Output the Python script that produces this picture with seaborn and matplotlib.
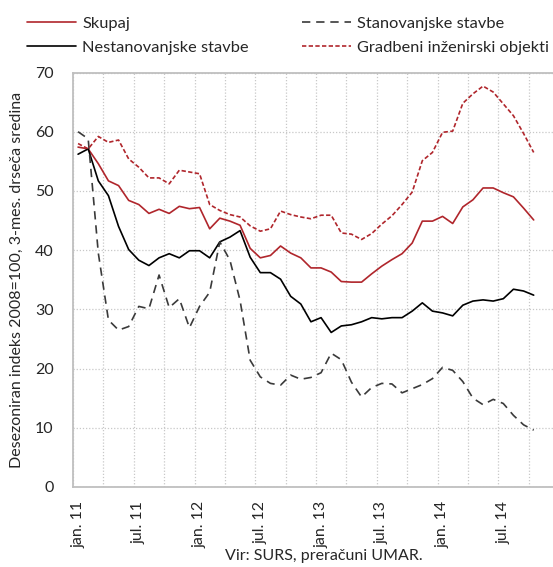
import matplotlib
matplotlib.use("Agg")
import matplotlib.pyplot as plt
import seaborn as sns
import numpy as np
import pandas as pd

# ---- data ----
month_abbr = ["jan.", "feb.", "mar.", "apr.", "maj", "jun.", "jul.", "avg.", "sep.", "okt.", "nov.", "dec."]
years = ["11", "12", "13", "14"]
months = [f"{m} {y}" for y in years for m in month_abbr][:46]

skupaj = [57.4, 57.1, 54.6, 51.7, 50.9, 48.4, 47.7, 46.2, 46.9, 46.2, 47.4, 47.0,
          47.2, 43.6, 45.4, 44.9, 44.2, 40.3, 38.7, 39.1, 40.7, 39.5, 38.7, 37.0,
          37.0, 36.3, 34.7, 34.6, 34.6, 36.0, 37.3, 38.4, 39.4, 41.2, 44.9, 44.9,
          45.7, 44.5, 47.3, 48.5, 50.5, 50.5, 49.7, 49.0, 47.1, 45.1]
stanovanjske = [60.0, 58.8, 39.5, 28.2, 26.5, 27.1, 30.5, 30.1, 35.8, 30.3, 31.8, 26.9,
                30.5, 32.9, 41.4, 38.3, 31.5, 21.4, 18.6, 17.5, 17.2, 18.9, 18.2, 18.5,
                19.3, 22.6, 21.5, 17.7, 15.2, 16.8, 17.5, 17.4, 15.9, 16.6, 17.3, 18.3,
                20.2, 19.7, 17.8, 15.0, 13.9, 14.8, 14.1, 12.1, 10.5, 9.6]
nestanovanjske = [56.2, 57.1, 51.7, 49.2, 44.0, 40.1, 38.3, 37.4, 38.7, 39.4, 38.7, 39.9,
                  39.9, 38.7, 41.4, 42.2, 43.3, 38.8, 36.2, 36.2, 35.1, 32.2, 30.9, 27.9,
                  28.6, 26.1, 27.2, 27.4, 27.9, 28.6, 28.4, 28.6, 28.6, 29.7, 31.1, 29.7,
                  29.4, 28.9, 30.7, 31.4, 31.6, 31.4, 31.8, 33.4, 33.1, 32.4]
gradbeni = [58.0, 57.1, 59.2, 58.2, 58.6, 55.4, 54.0, 52.2, 52.2, 51.2, 53.5, 53.2,
            52.9, 47.7, 46.7, 46.0, 45.6, 44.1, 43.2, 43.6, 46.6, 46.0, 45.6, 45.3,
            45.9, 45.9, 42.9, 42.7, 41.8, 42.8, 44.4, 45.8, 47.7, 49.8, 55.1, 56.5,
            59.9, 60.1, 64.8, 66.4, 67.7, 66.7, 64.7, 62.7, 59.7, 56.5]

tick_labels = ["jan. 11", "jul. 11", "jan. 12", "jul. 12", "jan. 13", "jul. 13", "jan. 14", "jul. 14"]
y_ticks = [0, 10, 20, 30, 40, 50, 60, 70]

series_names = ["Skupaj", "Nestanovanjske stavbe", "Stanovanjske stavbe", "Gradbeni inženirski objekti"]

df = pd.DataFrame({
    "idx": np.arange(len(months)),
    "Skupaj": skupaj,
    "Stanovanjske stavbe": stanovanjske,
    "Nestanovanjske stavbe": nestanovanjske,
    "Gradbeni inženirski objekti": gradbeni,
})

sns.set_theme(style="white")
plt.rcParams["font.family"] = ["Lato", "DejaVu Sans"]

W, H = 553, 567
fig = plt.figure(figsize=(W / 100, H / 100), dpi=100)
ax_left, ax_right, ax_top, ax_bottom = 73, 559, 72.5, 487
ax = fig.add_axes([ax_left / W, 1 - ax_bottom / H, (ax_right - ax_left) / W, (ax_bottom - ax_top) / H])

red = "#b0262c"
styles = {
    "Skupaj": dict(color=red, linestyle="-"),
    "Nestanovanjske stavbe": dict(color="black", linestyle="-"),
    "Stanovanjske stavbe": dict(color="#3a3a3a", linestyle=(0, (5, 3.5))),
    "Gradbeni inženirski objekti": dict(color=red, linestyle=(0, (2.6, 1.4))),
}
for name in series_names:
    sns.lineplot(data=df, x="idx", y=name, ax=ax, label=name, linewidth=1.2, **styles[name])

ax.set_xlim(-0.5, 47.5)
ax.set_ylim(0, 70)

ax.set_xticks([months.index(t) for t in tick_labels])
ax.set_xticklabels(tick_labels, rotation=90, fontsize=11.5)
ax.set_xticks(np.arange(-0.5, 48, 3), minor=True)
ax.set_yticks(y_ticks)
ax.set_yticklabels([str(v) for v in y_ticks], fontsize=11.5)
ax.tick_params(axis="both", which="both", length=0)
ax.tick_params(axis="y", pad=14)
ax.tick_params(axis="x", pad=10)

ax.grid(False)
ax.grid(True, which="minor", axis="x", color="#c8c8c8", linestyle=(0, (1, 1.5)), linewidth=0.9)
ax.grid(True, which="major", axis="y", color="#c8c8c8", linestyle=(0, (1, 1.5)), linewidth=0.9)
ax.set_axisbelow(True)

for s in ax.spines.values():
    s.set_color("#bfbfbf")
    s.set_linewidth(1.3)

ax.set_xlabel("")
ax.set_ylabel("Desezoniran indeks 2008=100, 3-mes. drseča sredina", fontsize=11.5, labelpad=8)

handles, labels = ax.get_legend_handles_labels()
ax.get_legend().remove()
fig.legend(handles, labels, ncol=2, loc="upper left", bbox_to_anchor=(12 / W, 1 - 2 / H),
           frameon=False, fontsize=11.8, handlelength=3.0, handletextpad=0.4,
           columnspacing=3.2, labelspacing=0.55)

fig.text(324 / W, 1 - 556 / H, "Vir: SURS, preračuni UMAR.", ha="center", va="center", fontsize=11.5)

fig.savefig("out.png", dpi=100)
